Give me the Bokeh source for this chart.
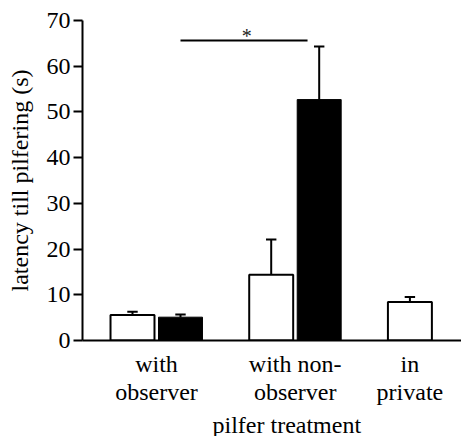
from bokeh.plotting import figure
from bokeh.models import Range1d, FixedTicker, Label, Title
from bokeh.embed import file_html
from bokeh.resources import INLINE

# ---- data ----
groups = ["with\nobserver", "with non-\nobserver", "in\nprivate"]
white_means = [5.6, 14.4, 8.4]
white_errs = [0.7, 7.7, 1.1]
black_means = [5.1, 52.7]
black_errs = [0.6, 11.6]
y_ticks = [0, 10, 20, 30, 40, 50, 60, 70]
sig_pair = (1, 2)          # groups compared
sig_level = 65.6
sig_text = "*"
y_label = "latency till pilfering (s)"
x_label = "pilfer treatment"

FONT = "Liberation Serif"
FS = "24px"

centers = [1, 2, 3]
off = 0.173
bw = 0.317
capw = 0.075

wx = [c - off for c in centers]
bx = [c + off for c in centers[:len(black_means)]]

p = figure(frame_width=379, frame_height=320, output_backend="svg", toolbar_location=None,
           x_range=Range1d(0.4665, 3.199), y_range=Range1d(0, 70),
           min_border_left=82, min_border_right=0, min_border_top=20, min_border_bottom=90)
p.outline_line_color = None
p.xgrid.visible = False
p.ygrid.visible = False
p.background_fill_color = "white"

# error bars (upper only)
def errbars(xs, ms, es):
    tops = [m + e for m, e in zip(ms, es)]
    p.segment(x0=xs, y0=ms, x1=xs, y1=tops, line_color="black", line_width=2)
    p.segment(x0=[x - capw / 2 for x in xs], y0=tops, x1=[x + capw / 2 for x in xs], y1=tops,
              line_color="black", line_width=2)

errbars(wx, white_means, white_errs)
errbars(bx, black_means, black_errs)

p.vbar(x=wx, top=white_means, width=bw, fill_color="white", line_color="black", line_width=2)
p.vbar(x=bx, top=black_means, width=bw, fill_color="black", line_color="black", line_width=1)

# significance line
sx0 = sig_pair[0] + off
sx1 = sig_pair[1] + 0.089
p.segment(x0=[sx0], y0=[sig_level], x1=[sx1], y1=[sig_level], line_color="black", line_width=2)
p.add_layout(Label(x=(sx0 + sx1) / 2 + 0.02, y=sig_level, text=sig_text, text_font=FONT,
                   text_font_size="20px", text_align="center", text_baseline="bottom",
                   y_offset=-6, text_color="#222222"))

# axes
p.yaxis.ticker = FixedTicker(ticks=y_ticks)
p.yaxis.minor_tick_line_color = None
p.yaxis.major_tick_out = 9
p.yaxis.major_tick_in = 0
p.yaxis.major_tick_line_width = 2
p.yaxis.axis_line_width = 2
p.yaxis.major_label_standoff = 3
p.yaxis.major_label_text_font = FONT
p.yaxis.major_label_text_font_size = FS
p.yaxis.major_label_text_color = "black"
p.yaxis.axis_label = y_label
p.yaxis.axis_label_text_font = FONT
p.yaxis.axis_label_text_font_size = FS
p.yaxis.axis_label_text_font_style = "normal"
p.yaxis.axis_label_text_color = "black"
p.yaxis.axis_label_standoff = 11

tick_pos = [centers[0], centers[1], centers[2] - off]
p.xaxis.ticker = FixedTicker(ticks=tick_pos)
p.xaxis.major_label_overrides = {t: g for t, g in zip(tick_pos, groups)}
p.xaxis.major_tick_line_color = None
p.xaxis.minor_tick_line_color = None
p.xaxis.axis_line_width = 2
p.xaxis.major_label_standoff = 4
p.xaxis.major_label_text_font = FONT
p.xaxis.major_label_text_font_size = FS
p.xaxis.major_label_text_line_height = 1.1
p.xaxis.major_label_text_color = "black"

p.add_layout(Title(text=x_label, text_font=FONT, text_font_size=FS, text_font_style="normal",
                   text_color="black", align="left", offset=130, standoff=2), "below")

open("out.html", "w").write(file_html(p, INLINE))
